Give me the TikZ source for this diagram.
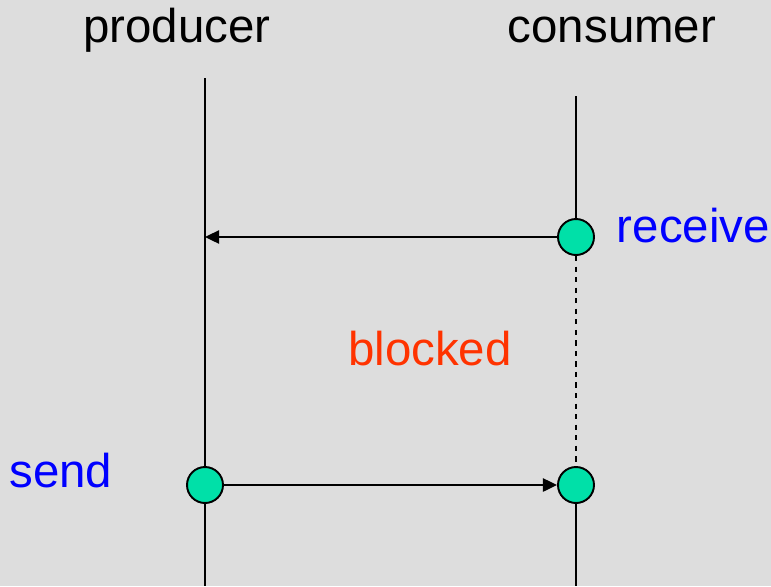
\documentclass[tikz,border=0pt]{standalone}
\usepackage{fontspec}
\setmainfont{Liberation Sans}
\usetikzlibrary{arrows.meta}

\definecolor{bg}{RGB}{221,221,221}
\definecolor{evt}{RGB}{0,224,168}
\definecolor{blk}{RGB}{255,51,0}

\begin{document}
\begin{tikzpicture}[x=0.02cm, y=-0.02cm, line width=1.1pt,
	event/.style={circle, draw, fill=evt, minimum size=0.72cm, inner sep=0pt},
	msg/.style={-{Triangle[length=8pt,width=7.5pt]}},
	lbl/.style={font=\fontsize{27}{31}\selectfont}]
	\fill[bg] (0,0) rectangle (771,586);
	\useasboundingbox (0,0) rectangle (771,586);

	\node[lbl] (P) at (177,30) {producer};
	\node[lbl] (C) at (612,30) {consumer};

	\coordinate (Ptop) at (205,78);
	\coordinate (Pbot) at (205,586);
	\coordinate (Ctop) at (576,96);
	\coordinate (Cbot) at (576,586);
	\coordinate (Pin) at (205,237);

	\node[event] (R) at (576,237) {};
	\node[event] (S) at (205,485) {};
	\node[event] (D) at (576,485) {};

	\draw (Ptop) -- (S);
	\draw (S) -- (Pbot);
	\draw (Ctop) -- (R);
	\draw[dashed, line width=0.8pt] (R) -- (D);
	\draw (D) -- (Cbot);

	\draw[msg] (R) -- (Pin);
	\draw[msg] (S) -- (D);

	\node[lbl, blue, anchor=west] at (610,226) {receive};
	\node[lbl, blue, anchor=east] at (119,471) {send};
	\node[lbl, blk] at (430,349) {blocked};
\end{tikzpicture}
\end{document}
